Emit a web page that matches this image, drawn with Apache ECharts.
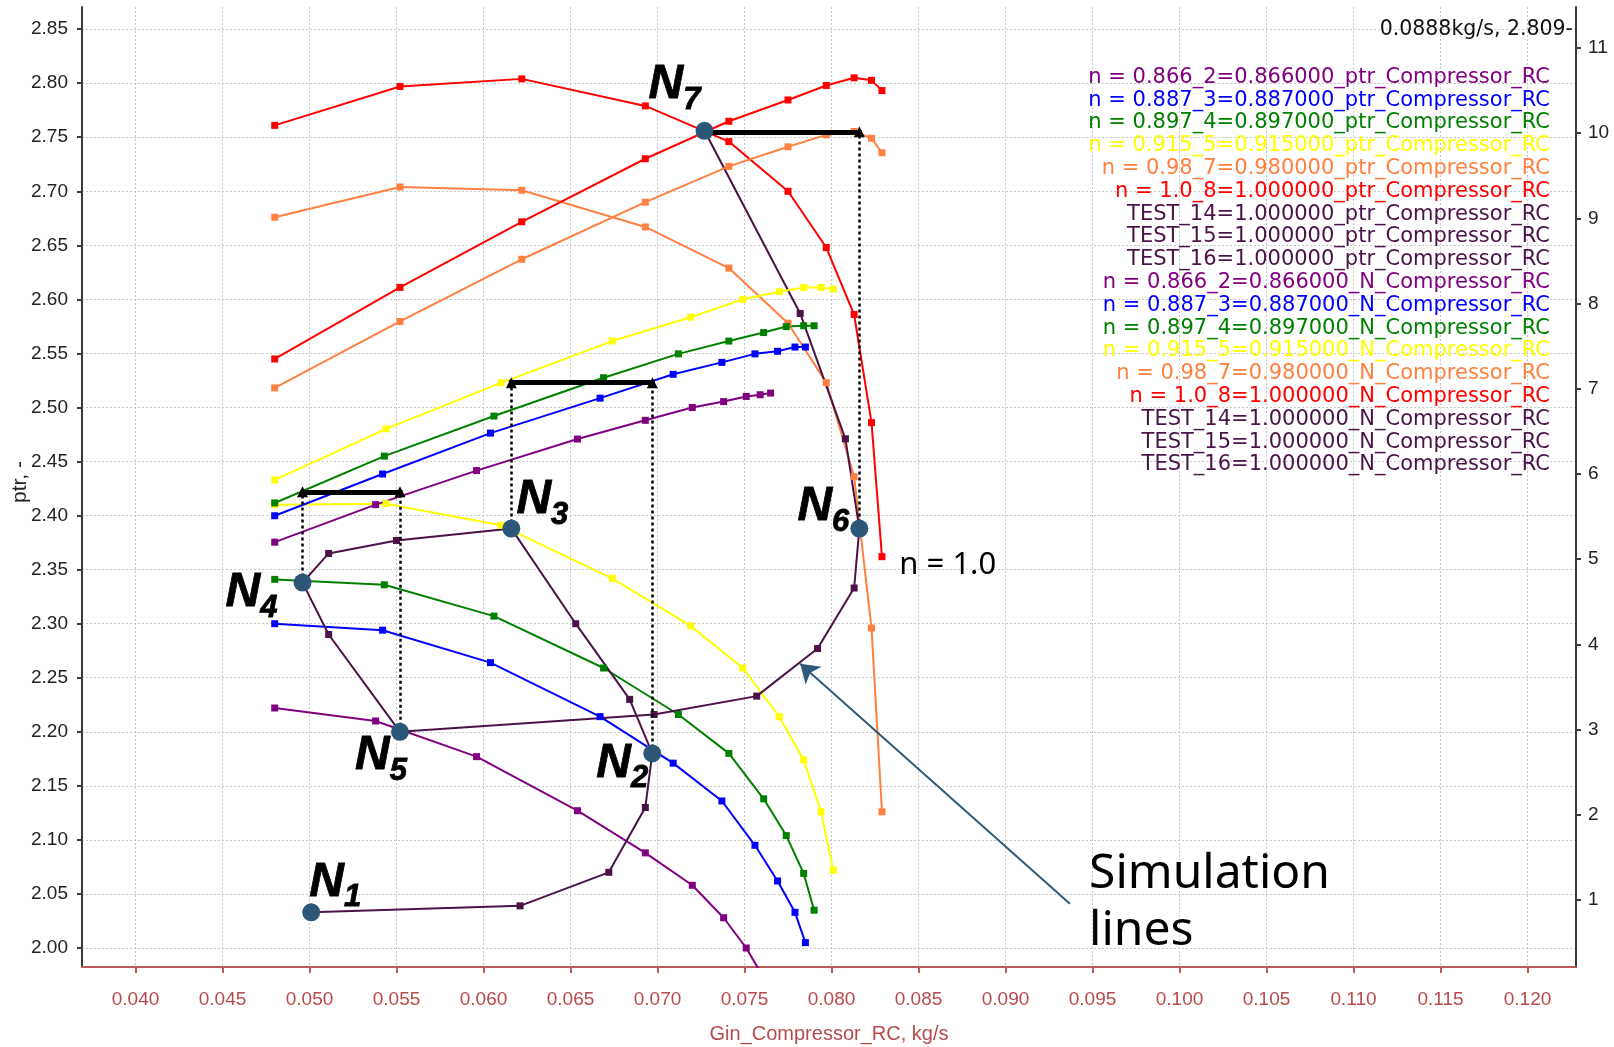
<!DOCTYPE html>
<html>
<head>
<meta charset="utf-8">
<script src="https://cdn.jsdelivr.net/npm/echarts@6/dist/echarts.min.js"></script>
<style>
  html, body { margin: 0; padding: 0; background: #ffffff; }
  #chart { width: 1614px; height: 1047px; }
</style>
</head>
<body>
<div id="chart"></div>
<script>
// Compressor_RC map: pressure-ratio lines (left axis) and power lines (right axis)
// against corrected mass flow, with the simulated operating path N1..N7.

const ginTicks = [0.040, 0.045, 0.050, 0.055, 0.060, 0.065, 0.070, 0.075, 0.080,
                  0.085, 0.090, 0.095, 0.100, 0.105, 0.110, 0.115, 0.120];
const ptrTicks = [2.00, 2.05, 2.10, 2.15, 2.20, 2.25, 2.30, 2.35, 2.40,
                  2.45, 2.50, 2.55, 2.60, 2.65, 2.70, 2.75, 2.80, 2.85];
const powerTicks = [1, 2, 3, 4, 5, 6, 7, 8, 9, 10, 11];

// speed line n = 0.866
const gin_0866 = [0.0480, 0.0538, 0.0596, 0.0654, 0.0693, 0.0720, 0.0738, 0.0751, 0.0759, 0.0765];
const ptr_0866 = [2.222, 2.210, 2.177, 2.127, 2.088, 2.058, 2.028, 2.000, 1.978, 1.955];
const pow_0866 = [5.20, 5.64, 6.04, 6.41, 6.63, 6.78, 6.85, 6.91, 6.93, 6.95];
// speed line n = 0.887
const gin_0887 = [0.0480, 0.0542, 0.0604, 0.0667, 0.0709, 0.0737, 0.0756, 0.0769, 0.0779, 0.0785];
const ptr_0887 = [2.300, 2.294, 2.264, 2.214, 2.171, 2.136, 2.095, 2.062, 2.033, 2.005];
const pow_0887 = [5.51, 6.00, 6.48, 6.89, 7.17, 7.31, 7.41, 7.44, 7.49, 7.49];
// speed line n = 0.897
const gin_0897 = [0.0480, 0.0543, 0.0606, 0.0669, 0.0712, 0.0741, 0.0761, 0.0774, 0.0784, 0.0790];
const ptr_0897 = [2.341, 2.336, 2.307, 2.259, 2.216, 2.180, 2.138, 2.104, 2.069, 2.035];
const pow_0897 = [5.66, 6.21, 6.68, 7.13, 7.41, 7.56, 7.66, 7.73, 7.74, 7.74];
// speed line n = 0.915
const gin_0915 = [0.0480, 0.0544, 0.0610, 0.0674, 0.0719, 0.0749, 0.0770, 0.0784, 0.0794, 0.0801];
const ptr_0915 = [2.410, 2.411, 2.391, 2.342, 2.298, 2.259, 2.214, 2.174, 2.126, 2.072];
const pow_0915 = [5.93, 6.53, 7.07, 7.56, 7.84, 8.05, 8.14, 8.19, 8.19, 8.17];
// speed line n = 0.98
const gin_0980 = [0.0480, 0.0552, 0.0622, 0.0693, 0.0741, 0.0775, 0.0797, 0.0813, 0.0823, 0.0829];
const ptr_0980 = [2.676, 2.704, 2.701, 2.667, 2.629, 2.578, 2.523, 2.436, 2.296, 2.126];
const pow_0980 = [7.01, 7.79, 8.52, 9.19, 9.61, 9.84, 9.98, 10.02, 9.94, 9.77];
// speed line n = 1.0
const gin_1000 = [0.0480, 0.0552, 0.0622, 0.0693, 0.0741, 0.0775, 0.0797, 0.0813, 0.0823, 0.0829];
const ptr_1000 = [2.761, 2.797, 2.804, 2.779, 2.746, 2.700, 2.648, 2.586, 2.486, 2.362];
const pow_1000 = [7.35, 8.19, 8.96, 9.70, 10.14, 10.39, 10.56, 10.65, 10.62, 10.50];

// simulation runs
const test14Gin = [0.0501, 0.0621, 0.0672, 0.0693, 0.0697, 0.0684, 0.0653, 0.0616];
const test14Ptr = [2.033, 2.039, 2.070, 2.130, 2.180, 2.230, 2.300, 2.388];
const test15Gin = [0.0616, 0.0550, 0.0511, 0.0496, 0.0511, 0.0552];
const test15Ptr = [2.388, 2.377, 2.365, 2.338, 2.290, 2.200];
const test16Gin = [0.0552, 0.0698, 0.0757, 0.0792, 0.0813, 0.0816, 0.0808, 0.0782, 0.0727];
const test16Ptr = [2.200, 2.216, 2.233, 2.277, 2.333, 2.388, 2.471, 2.587, 2.756];

// operating points N1..N7
const opIndex = ['1', '2', '3', '4', '5', '6', '7'];
const opGin = [0.0501, 0.0697, 0.0616, 0.0496, 0.0552, 0.0816, 0.0727];
const opPtr = [2.033, 2.180, 2.388, 2.338, 2.200, 2.388, 2.756];

// equal-power links: pairs of operating points (by index) and the link level
const linkFrom = [3, 2, 6];
const linkTo = [4, 1, 5];
const linkPtr = [2.422, 2.523, 2.755];
// vertical arrows: operating point index -> link number
const riseOp = [3, 4, 2, 1, 5];
const riseLink = [0, 0, 1, 1, 2];

// free-text notes
const noteText = ['n = 1.0', 'Simulation\nlines'];
const noteGin = [0.0839, 0.0948];
const notePtr = [2.3544, 2.0416];
// pointer from the note to the simulated path
const pointerGin = [0.0937, 0.0782];
const pointerPtr = [2.041, 2.263];

const zip = (xs, ys) => xs.map((x, i) => [x, ys[i]]);

const speedLines = [
  { tag: 'n = 0.866_2=0.866000', color: '#800080', gin: gin_0866, ptr: ptr_0866, pow: pow_0866 },
  { tag: 'n = 0.887_3=0.887000', color: '#0000ff', gin: gin_0887, ptr: ptr_0887, pow: pow_0887 },
  { tag: 'n = 0.897_4=0.897000', color: '#008000', gin: gin_0897, ptr: ptr_0897, pow: pow_0897 },
  { tag: 'n = 0.915_5=0.915000', color: '#ffff00', gin: gin_0915, ptr: ptr_0915, pow: pow_0915 },
  { tag: 'n = 0.98_7=0.980000', color: '#ff8040', gin: gin_0980, ptr: ptr_0980, pow: pow_0980 },
  { tag: 'n = 1.0_8=1.000000', color: '#ff0000', gin: gin_1000, ptr: ptr_1000, pow: pow_1000 }
];
const testColor = '#4a1247';
const testRuns = [
  { tag: 'TEST_14=1.000000', gin: test14Gin, ptr: test14Ptr },
  { tag: 'TEST_15=1.000000', gin: test15Gin, ptr: test15Ptr },
  { tag: 'TEST_16=1.000000', gin: test16Gin, ptr: test16Ptr }
];

const series = [];
const legendItems = [];
const curve = (name, color, data, yIdx) => ({
  name: name, type: 'line', xAxisIndex: 0, yAxisIndex: yIdx, data: data,
  symbol: 'rect', symbolSize: 7, showSymbol: true,
  lineStyle: { width: 2, color: color }, itemStyle: { color: color },
  emphasis: { disabled: true }, z: 2
});

speedLines.forEach(s => {
  const nm = s.tag + '_ptr_Compressor_RC';
  series.push(curve(nm, s.color, zip(s.gin, s.ptr), 0));
  legendItems.push({ name: nm, textStyle: { color: s.color } });
});
testRuns.forEach(t => {
  const nm = t.tag + '_ptr_Compressor_RC';
  series.push(curve(nm, testColor, zip(t.gin, t.ptr), 0));
  legendItems.push({ name: nm, textStyle: { color: testColor } });
});
speedLines.forEach(s => {
  const nm = s.tag + '_N_Compressor_RC';
  series.push(curve(nm, s.color, zip(s.gin, s.pow), 1));
  legendItems.push({ name: nm, textStyle: { color: s.color } });
});
testRuns.forEach(t => {
  const nm = t.tag + '_N_Compressor_RC';
  series.push(curve(nm, testColor, [], 1));
  legendItems.push({ name: nm, textStyle: { color: testColor } });
});

// dotted rise arrows from an operating point up to its power link
series.push({
  type: 'lines', coordinateSystem: 'cartesian2d', silent: true, z: 5,
  data: riseOp.map((p, i) => ({ coords: [[opGin[p], opPtr[p]], [opGin[p], linkPtr[riseLink[i]]]] })),
  lineStyle: { color: '#000', width: 2.5, type: [3, 3], opacity: 1 },
  symbol: ['none', 'triangle'], symbolSize: 11
});
// equal-power links
series.push({
  type: 'lines', coordinateSystem: 'cartesian2d', silent: true, z: 6,
  data: linkFrom.map((a, i) => ({ coords: [[opGin[a], linkPtr[i]], [opGin[linkTo[i]], linkPtr[i]]] })),
  lineStyle: { color: '#000', width: 5, opacity: 1, cap: 'square' },
  symbol: ['none', 'none']
});
// pointer arrow for the note
series.push({
  type: 'lines', coordinateSystem: 'cartesian2d', silent: true, z: 6,
  data: [{ coords: [[pointerGin[0], pointerPtr[0]], [pointerGin[1], pointerPtr[1]]] }],
  lineStyle: { color: '#2e5a7c', width: 2, opacity: 1 },
  symbol: ['none', 'arrow'], symbolSize: 18
});

// operating point markers with N_k labels
const opLabelOffset = [[24, -30], [-30, 10], [31, -29], [-51, 10], [-19, 24], [-36, -22], [-30, -46]];
const labelStyle = { fontFamily: 'Liberation Sans', fontWeight: 'bold', fontStyle: 'italic',
                     color: '#000', textBorderColor: '#000', textBorderWidth: 0.8 };
series.push({
  type: 'scatter', silent: true, z: 8,
  data: opIndex.map((k, i) => ({
    value: [opGin[i], opPtr[i]],
    label: { offset: opLabelOffset[i], formatter: '{n|N}{s|' + k + '}' }
  })),
  symbol: 'circle', symbolSize: 18,
  itemStyle: { color: '#2c5779', opacity: 1 },
  label: {
    show: true, position: 'inside',
    rich: {
      n: Object.assign({ fontSize: 48, lineHeight: 48, verticalAlign: 'top' }, labelStyle),
      s: Object.assign({ fontSize: 31, lineHeight: 31, padding: [24, 0, 0, 0], verticalAlign: 'top' }, labelStyle)
    }
  }
});

// free-text notes
series.push({
  type: 'scatter', silent: true, z: 8, symbolSize: 0,
  itemStyle: { opacity: 1 },
  data: noteText.map((t, i) => ({
    value: [noteGin[i], notePtr[i]],
    label: i === 0 ? { formatter: t, fontSize: 31 } : { formatter: t, fontSize: 48, lineHeight: 57 }
  })),
  label: { show: true, position: 'right', distance: 0, color: '#000', fontFamily: 'Noto Sans' }
});

const gridLine = { show: true, lineStyle: { color: '#c8c8c8', width: 1, type: [2, 2] } };
const axisFont = 'Liberation Sans';

const option = {
  animation: false,
  backgroundColor: '#ffffff',
  title: {
    text: '0.0888kg/s, 2.809-', right: 41, top: 19, padding: 0,
    textStyle: { fontFamily: 'DejaVu Sans', fontSize: 20.5, fontWeight: 'normal', color: '#111' }
  },
  legend: {
    orient: 'vertical', right: 59, top: 66, align: 'right', icon: 'none',
    itemWidth: 0, itemHeight: 22.8, itemGap: 0, padding: 0, selectedMode: false,
    textStyle: { fontFamily: 'DejaVu Sans', fontSize: 21, lineHeight: 22.8 },
    data: legendItems
  },
  grid: { left: 82, right: 38, top: 7, bottom: 80, containLabel: false, outerBoundsMode: 'none' },
  xAxis: {
    type: 'value', min: 0.036925, max: 0.122787,
    name: 'Gin_Compressor_RC, kg/s', nameLocation: 'middle', nameGap: 57, nameMoveOverlap: false,
    nameTextStyle: { color: '#b84a4a', fontFamily: axisFont, fontSize: 20 },
    axisLine: { show: true, onZero: false, lineStyle: { color: '#c05a5a', width: 2 } },
    axisTick: { show: true, customValues: ginTicks, length: 6, lineStyle: { color: '#c05a5a', width: 2 } },
    axisLabel: { customValues: ginTicks, formatter: v => v.toFixed(3), color: '#b84a4a',
                 fontFamily: axisFont, fontSize: 19, margin: 23 },
    splitLine: gridLine
  },
  yAxis: [
    {
      type: 'value', position: 'left', min: 1.98242, max: 2.87049,
      name: 'ptr, -', nameLocation: 'middle', nameGap: 41, nameMoveOverlap: false,
      nameTextStyle: { color: '#222', fontFamily: axisFont, fontSize: 21, padding: [0, 0, 10, 10] },
      axisLine: { show: true, lineStyle: { color: '#3a3a3a', width: 2 } },
      axisTick: { show: true, customValues: ptrTicks, length: 5, lineStyle: { color: '#3a3a3a', width: 2 } },
      axisLabel: { customValues: ptrTicks, formatter: v => v.toFixed(2), color: '#222',
                   fontFamily: axisFont, fontSize: 19, margin: 14 },
      splitLine: gridLine
    },
    {
      type: 'value', position: 'right', min: 0.2136, max: 11.481,
      axisLine: { show: true, lineStyle: { color: '#3a3a3a', width: 2 } },
      axisTick: { show: true, customValues: powerTicks, length: 5, lineStyle: { color: '#3a3a3a', width: 2 } },
      axisLabel: { customValues: powerTicks, formatter: v => String(v), color: '#222',
                   fontFamily: axisFont, fontSize: 19, margin: 12 },
      splitLine: { show: false }
    }
  ],
  series: series
};

const chart = echarts.init(document.getElementById('chart'), null, { renderer: 'canvas' });
chart.setOption(option);
</script>
</body>
</html>
